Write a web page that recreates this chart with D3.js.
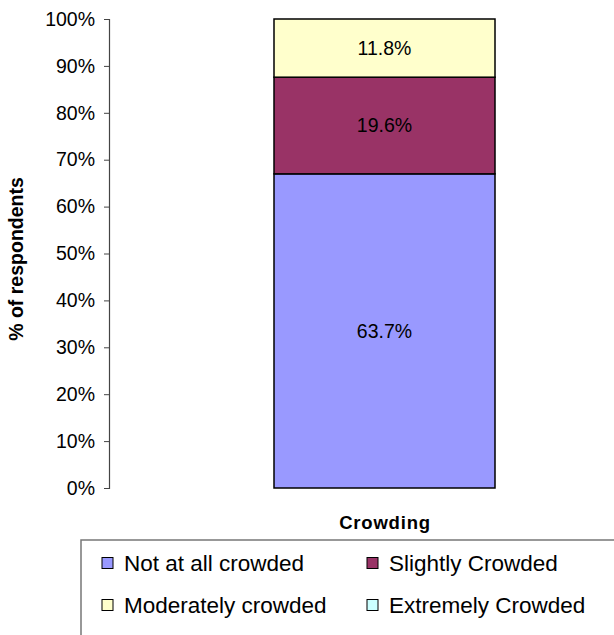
<!DOCTYPE html>
<html>
<head>
<meta charset="utf-8">
<script src="https://cdn.jsdelivr.net/npm/d3@7"></script>
<style>
  html, body { margin: 0; padding: 0; background: #fff; }
  svg { display: block; font-family: "Liberation Sans", Arial, sans-serif; }
</style>
</head>
<body>
<svg id="chart" width="614" height="635"></svg>
<script>
const categories = ["Crowding"];
const seriesNames = ["Not at all crowded", "Slightly Crowded", "Moderately crowded", "Extremely Crowded"];
const seriesValues = [63.7, 19.6, 11.8, 0];
const seriesColors = ["#9999FF", "#993366", "#FFFFCC", "#CCFFFF"];
const tickValues = [0, 0.1, 0.2, 0.3, 0.4, 0.5, 0.6, 0.7, 0.8, 0.9, 1.0];

const svg = d3.select("#chart");
const plot = { left: 109, top: 19, bottom: 488, right: 660 };

const y = d3.scaleLinear().domain([0, 1]).range([plot.bottom, plot.top]);

const total = d3.sum(seriesValues);
const row = {}; seriesNames.forEach((n, i) => row[n] = seriesValues[i] / total);
const stack = d3.stack().keys(seriesNames)([Object.assign({cat: categories[0]}, row)]);

// y axis
const yAxis = d3.axisLeft(y).tickValues(tickValues).tickFormat(d3.format(".0%")).tickSize(5).tickPadding(9);
const gy = svg.append("g").attr("transform", `translate(${plot.left},0)`).call(yAxis);
gy.select(".domain").attr("stroke", "#444").attr("stroke-width", 1.2);
gy.selectAll(".tick line").attr("stroke", "#444");
gy.selectAll(".tick text").attr("font-size", 19.5).attr("fill", "#000").attr("font-family", "Liberation Sans, Arial, sans-serif");

// bar
const barX = 274, barW = 221;
const layers = svg.append("g");
stack.forEach((s, i) => {
  const d = s[0];
  const h = y(d[0]) - y(d[1]);
  if (h <= 0) return;
  layers.append("rect")
    .attr("x", barX).attr("width", barW)
    .attr("y", y(d[1])).attr("height", h)
    .attr("fill", seriesColors[i]).attr("stroke", "#000").attr("stroke-width", 1.5);
  layers.append("text")
    .attr("x", barX + barW / 2).attr("y", (y(d[0]) + y(d[1])) / 2)
    .attr("dy", "0.35em").attr("text-anchor", "middle")
    .attr("font-size", 19.5).attr("fill", "#000")
    .text(seriesValues[i].toFixed(1) + "%");
});

// axis titles
svg.append("text")
  .attr("transform", `translate(23,259) rotate(-90)`)
  .attr("text-anchor", "middle").attr("font-weight", "bold").attr("font-size", 19.5)
  .text("% of respondents");
svg.append("text")
  .attr("x", 385).attr("y", 529).attr("text-anchor", "middle")
  .attr("font-weight", "bold").attr("font-size", 18.5).attr("letter-spacing", 0.8)
  .text(categories[0]);

// legend
const lg = svg.append("g");
lg.append("rect").attr("x", 81).attr("y", 540).attr("width", 600).attr("height", 120)
  .attr("fill", "#fff").attr("stroke", "#777").attr("stroke-width", 1.5);
const legPos = [[102, 563], [367, 563], [102, 605], [367, 605]];
seriesNames.forEach((n, i) => {
  const [lx, ly] = legPos[i];
  lg.append("rect").attr("x", lx).attr("y", ly - 5.5).attr("width", 11).attr("height", 11)
    .attr("fill", seriesColors[i]).attr("stroke", "#000").attr("stroke-width", 1);
  lg.append("text").attr("x", lx + 22).attr("y", ly).attr("dy", "0.36em")
    .attr("font-size", 22.5).attr("fill", "#000").text(n);
});
</script>
</body>
</html>
